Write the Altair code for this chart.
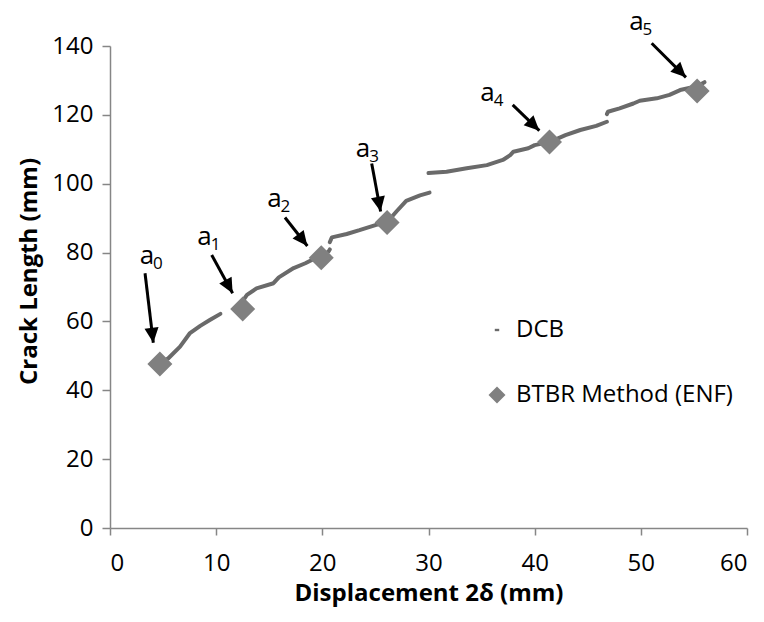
import math
import altair as alt
import pandas as pd

# ---------------- data ----------------
# DCB crack length curve (several continuous pieces)
dcb_seg = [1]*7 + [2]*12 + [3]*10 + [4]*14 + [5]*10
dcb_x = [5.0, 5.5, 6.6, 7.5, 8.5, 9.4, 10.4,
         12.4, 12.9, 13.8, 15.4, 15.9, 17.3, 18.4, 19.1, 19.9, 20.3, 20.6, 20.7,
         20.7, 20.9, 22.3, 23.5, 25.0, 26.1, 27.0, 27.9, 29.2, 30.1,
         30.0, 31.7, 33.6, 35.5, 37.0, 37.7, 38.0, 39.4, 40.0, 41.4, 42.9, 44.3, 45.8, 46.8,
         46.8, 46.9, 48.0, 49.3, 49.9, 51.5, 52.7, 53.7, 55.3, 56.0]
dcb_y = [48.3, 49.3, 52.7, 56.5, 58.7, 60.4, 62.2,
         65.5, 67.7, 69.6, 71.1, 72.8, 75.5, 76.9, 78.0, 78.6, 79.6, 80.4, 80.9,
         83.0, 84.4, 85.4, 86.5, 88.0, 88.8, 92.0, 95.0, 96.6, 97.4,
         103.1, 103.5, 104.5, 105.4, 106.9, 108.3, 109.3, 110.3, 111.2, 112.1, 114.1, 115.6, 116.8, 118.0,
         120.2, 120.9, 121.9, 123.3, 124.1, 124.8, 125.8, 127.2, 128.3, 129.5]

# BTBR Method (ENF) points
btbr_x = [4.7, 12.5, 19.9, 26.1, 41.4, 55.3]
btbr_y = [47.6, 63.6, 78.5, 88.7, 112.1, 126.9]

# annotation labels a0..a5 and their arrows
label_sub = ["0", "1", "2", "3", "4", "5"]
label_x = [3.48, 8.90, 15.49, 23.83, 35.56, 49.59]
label_y = [76.7, 82.2, 93.2, 107.8, 124.0, 144.6]
tail_x = [3.30, 9.58, 16.48, 24.65, 37.93, 51.02]
tail_y = [74.0, 79.3, 90.2, 105.9, 122.9, 140.8]
tip_x = [4.08, 11.55, 18.59, 25.49, 40.44, 54.25]
tip_y = [53.8, 68.2, 81.9, 91.9, 115.4, 130.9]

x_ticks = [0, 10, 20, 30, 40, 50, 60]
y_ticks = [0, 20, 40, 60, 80, 100, 120, 140]
series_names = ["DCB", "BTBR Method (ENF)"]

# ---------------- layout / style ----------------
FONT = "Open Sans"
W, H = 637, 482
X_DOMAIN = [0, 60]
Y_DOMAIN = [0, 140]
PX_X = W / (X_DOMAIN[1] - X_DOMAIN[0])
PX_Y = H / (Y_DOMAIN[1] - Y_DOMAIN[0])
AXIS_GREY = "#868686"

dcb = pd.DataFrame({"x": dcb_x, "y": dcb_y, "seg": dcb_seg})
btbr = pd.DataFrame({"x": btbr_x, "y": btbr_y, "series": series_names[1]})
ann = pd.DataFrame({"lx": label_x, "ly": label_y, "sub": label_sub,
                    "tx": tail_x, "ty": tail_y, "hx": tip_x, "hy": tip_y})
# arrow-head direction in screen space (clockwise from up)
ann["ang"] = [
    math.degrees(math.atan2((hx - tx) * PX_X, (hy - ty) * PX_Y)) % 360
    for tx, ty, hx, hy in zip(tail_x, tail_y, tip_x, tip_y)
]

x_scale = alt.Scale(domain=X_DOMAIN, nice=False, zero=False)
y_scale = alt.Scale(domain=Y_DOMAIN, nice=False, zero=False)

x_axis = alt.Axis(
    values=x_ticks, title="Displacement 2δ (mm)", grid=False,
    domainColor=AXIS_GREY, domainWidth=1.5, tickColor=AXIS_GREY, tickWidth=1.5,
    tickSize=7, labelFont=FONT, labelFontSize=24, labelColor="black",
    labelPadding=16, titleFont=FONT, titleFontSize=24, titleFontWeight="bold",
    titleColor="black", titleX=W / 2, titleY=72, titleBaseline="alphabetic",
    titleAlign="center",
)
y_axis = alt.Axis(
    values=y_ticks, title="Crack Length (mm)", grid=False,
    domainColor=AXIS_GREY, domainWidth=1.5, tickColor=AXIS_GREY, tickWidth=1.5,
    tickSize=8, labelFont=FONT, labelFontSize=24, labelColor="black",
    labelPadding=9, titleFont=FONT, titleFontSize=24, titleFontWeight="bold",
    titleColor="black", titleAngle=270, titleX=-74, titleY=225,
    titleBaseline="alphabetic", titleAlign="center",
)

X = alt.X("x:Q", scale=x_scale, axis=x_axis)
Y = alt.Y("y:Q", scale=y_scale, axis=y_axis)

line = alt.Chart(dcb).mark_line(
    color="#6a6a6a", strokeWidth=4, strokeCap="round", strokeJoin="round"
).encode(x=X, y=Y, detail="seg:N", order="x:Q")

dash_path = "M-0.26,-0.14 L0.26,-0.14 L0.26,0.14 L-0.26,0.14 Z"
legend = alt.Legend(
    title=None, orient="none", legendX=375, legendY=272, padding=0,
    labelFont=FONT, labelFontSize=24, labelColor="black", labelOffset=7,
    labelLimit=0, symbolSize=290, rowPadding=41, symbolStrokeWidth=0,
)
points = alt.Chart(btbr).mark_point(filled=True, size=625, opacity=1).encode(
    x=X, y=Y,
    shape=alt.Shape("series:N", scale=alt.Scale(domain=series_names,
                                                range=[dash_path, "diamond"]),
                    legend=legend),
    color=alt.Color("series:N", scale=alt.Scale(domain=series_names,
                                                range=["#6a6a6a", "#808080"]),
                    legend=legend),
)

shafts = alt.Chart(ann).mark_rule(color="black", strokeWidth=3).encode(
    x=alt.X("tx:Q", scale=x_scale), y=alt.Y("ty:Q", scale=y_scale),
    x2="hx:Q", y2="hy:Q",
)
heads = alt.Chart(ann).mark_point(
    shape="M0,0 L-0.47,1 L0.47,1 Z", filled=True, size=900, color="black", opacity=1
).encode(
    x=alt.X("hx:Q", scale=x_scale), y=alt.Y("hy:Q", scale=y_scale),
    angle=alt.Angle("ang:Q", scale=None),
)
a_text = alt.Chart(ann).mark_text(
    text="a", font=FONT, fontSize=26, color="black", align="center", baseline="alphabetic"
).encode(x=alt.X("lx:Q", scale=x_scale), y=alt.Y("ly:Q", scale=y_scale))
sub_text = alt.Chart(ann).mark_text(
    font=FONT, fontSize=17, color="black", align="center", baseline="alphabetic", dx=11, dy=5
).encode(x=alt.X("lx:Q", scale=x_scale), y=alt.Y("ly:Q", scale=y_scale), text="sub:N")

chart = alt.layer(line, points, shafts, heads, a_text, sub_text).properties(
    width=W, height=H,
    padding={"left": 110, "top": 46, "right": 17, "bottom": 94},
    autosize=alt.AutoSizeParams(type="none"),
    background="white",
).configure_view(stroke=None)

chart.save("out.html", embed_options={"renderer": "svg", "actions": False})
